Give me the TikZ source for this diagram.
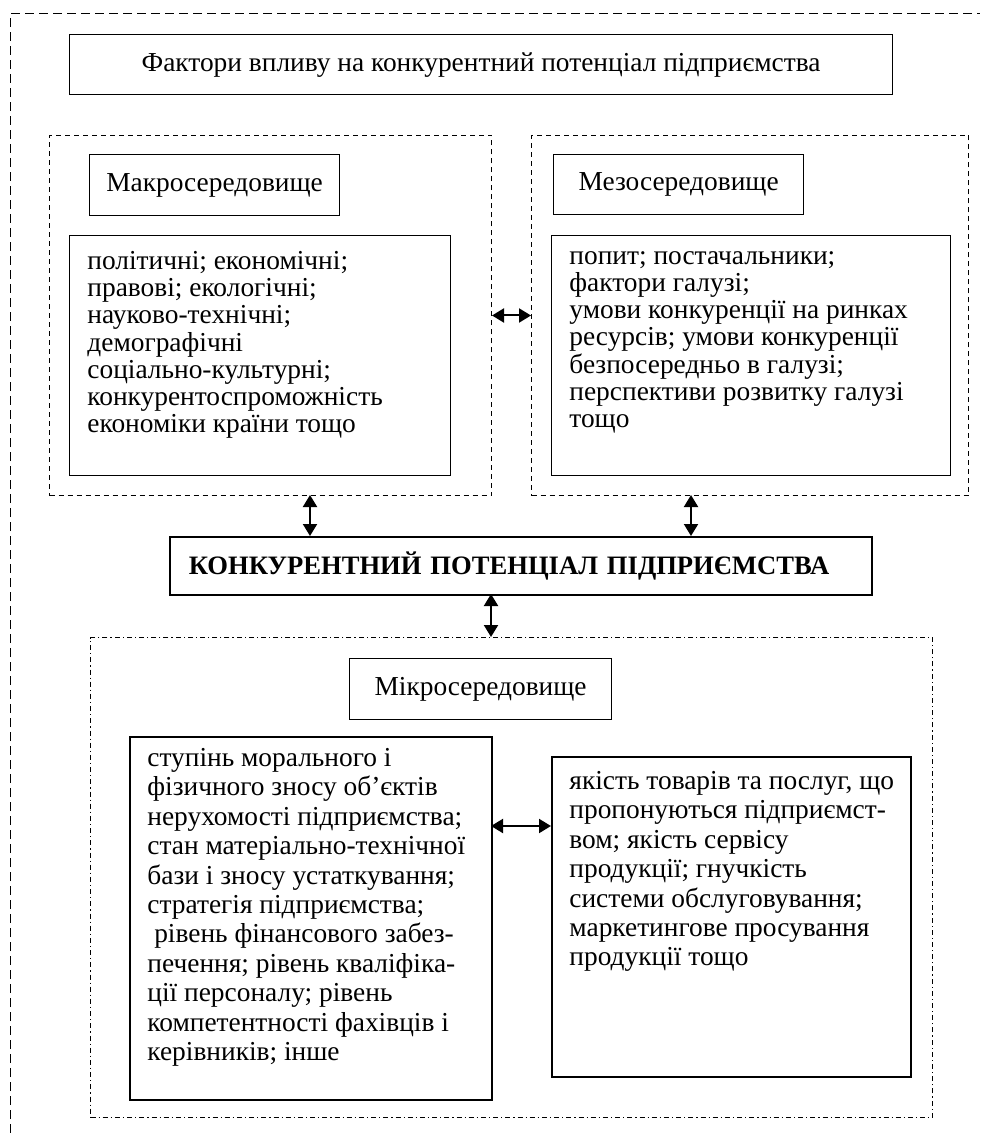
\documentclass[tikz,border=0pt]{standalone}
\usepackage{fontspec}
\setmainfont{Liberation Serif}[BoldFont={Liberation Serif Bold}]
\usetikzlibrary{arrows.meta}
\newcommand\diagfont{\fontsize{13.7}{13.6}\selectfont}
\newcommand\microfont{\fontsize{13.7}{14.7}\selectfont}

\begin{document}
\begin{tikzpicture}[x=0.5pt,y=-0.5pt,
  every node/.style={font=\diagfont},
  box/.style={draw, line width=0.6pt, anchor=north west, inner sep=0pt},
  heavybox/.style={box, line width=0.8pt},
  zone/.style={draw, line width=0.5pt, dash pattern=on 2.5pt off 2pt, anchor=north west, inner sep=0pt},
  dotzone/.style={zone, dash pattern=on 2.5pt off 1.5pt on 0.6pt off 1.5pt},
  notes/.style={anchor=north west, align=left, inner sep=0pt},
  link/.style={{Triangle[width=7pt,length=6pt]}-{Triangle[width=7pt,length=6pt]}, line width=1pt},
]
\useasboundingbox (0,0) rectangle (980,1133);
\draw[line width=0.5pt, dash pattern=on 4.5pt off 2.5pt] (10,1133) -- (10,14) -- (980,14);

\node[box, minimum width=411.5pt, minimum height=30pt] (factors) at (69,34)
  {Фактори впливу на конкурентний потенціал підприємства};

% macro and meso
\node[zone, minimum width=221pt, minimum height=180pt] (macrozone) at (49,135) {};
\node[zone, minimum width=218.5pt, minimum height=180pt] (mesozone) at (531,135) {};
\node[box, minimum width=125pt, minimum height=30.5pt] (macrohead) at (89,154) {Макросередовище};
\node[box, minimum width=190.5pt, minimum height=120pt] (macrobox) at (69,235) {};
\node[notes] (macrolist) at ([xshift=9pt,yshift=-8pt]macrobox.north west)
  {політичні; економічні;\\ правові; екологічні;\\ науково-технічні;\\ демографічні\\
   соціально-культурні;\\ конкурентоспроможність\\ економіки країни тощо};
\node[box, minimum width=125pt, minimum height=30pt] (mesohead) at (553,154) {Мезосередовище};
\node[box, minimum width=199.5pt, minimum height=120pt] (mesobox) at (551,235) {};
\node[notes] (mesolist) at ([xshift=9pt,yshift=-8pt]mesobox.north west)
  {попит; постачальники;\\ фактори галузі;\\ умови конкуренції на ринках\\ ресурсів; умови конкуренції\\
   безпосередньо в галузі;\\ перспективи розвитку галузі\\ тощо};
\draw[link] (macrozone.east) -- (mesozone.west);

% centre
\node[heavybox, minimum height=29pt, text width=332pt, inner xsep=9.5pt, align=left,
  font=\fontsize{13.3}{13.6}\selectfont\bfseries] (core) at (169,536) {КОНКУРЕНТНИЙ ПОТЕНЦІАЛ ПІДПРИЄМСТВА};
\coordinate (macrofoot) at (310,495);
\coordinate (mesofoot) at (691,495);
\coordinate (corefoot) at (491,594);
\draw[link] (macrofoot) -- (macrofoot |- core.north);
\draw[link] (mesofoot) -- (mesofoot |- core.north);

% micro
\node[dotzone, minimum width=421pt, minimum height=240pt] (microzone) at (90,637) {};
\draw[link] (corefoot) -- (corefoot |- microzone.north);
\node[box, minimum width=131pt, minimum height=30.5pt] (microhead) at (349,658) {Мікросередовище};
\node[heavybox, minimum width=181pt, minimum height=181.5pt] (innerbox) at (129,736) {};
\node[notes, font=\microfont] (innerlist) at ([xshift=9pt,yshift=-6pt]innerbox.north west)
  {ступінь морального і\\ фізичного зносу об’єктів\\ нерухомості підприємства;\\ стан матеріально-технічної\\
   бази і зносу устаткування;\\ стратегія підприємства;\\ \ рівень фінансового забез-\\ печення; рівень кваліфіка-\\
   ції персоналу; рівень\\ компетентності фахівців і\\ керівників; інше};
\node[heavybox, minimum width=179.5pt, minimum height=160pt] (outerbox) at (551,756) {};
\node[notes, font=\microfont] (outerlist) at ([xshift=9pt,yshift=-7.5pt]outerbox.north west)
  {якість товарів та послуг, що\\ пропонуються підприємст-\\ вом; якість сервісу\\ продукції; гнучкість\\
   системи обслуговування;\\ маркетингове просування\\ продукції тощо};
\coordinate (innerside) at (491,826);
\draw[link] (innerside) -- (innerside -| outerbox.west);
\end{tikzpicture}
\end{document}
